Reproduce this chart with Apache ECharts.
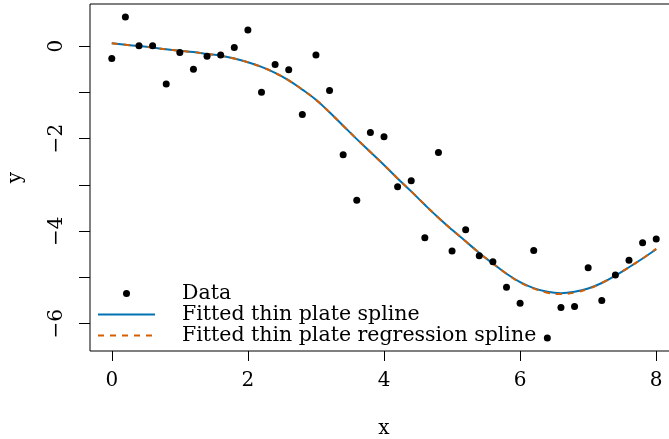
<!DOCTYPE html>
<html>
<head>
<meta charset="utf-8">
<script src="https://cdn.jsdelivr.net/npm/echarts@6.0.0/dist/echarts.min.js"></script>
<style>html,body{margin:0;padding:0;background:#fff}#c{width:669px;height:439px}</style>
</head>
<body>
<div id="c"></div>
<script>
var xValues = [0,0.2,0.4,0.6,0.8,1.0,1.2,1.4,1.6,1.8,2.0,2.2,2.4,2.6,2.8,3.0,3.2,3.4,3.6,3.8,4.0,4.2,4.4,4.6,4.8,5.0,5.2,5.4,5.6,5.8,6.0,6.2,6.4,6.6,6.8,7.0,7.2,7.4,7.6,7.8,8.0];
var yData = [-0.27,0.63,0.01,0.01,-0.82,-0.14,-0.50,-0.22,-0.19,-0.03,0.35,-1.00,-0.40,-0.51,-1.48,-0.19,-0.96,-2.35,-3.33,-1.87,-1.96,-3.04,-2.91,-4.14,-2.30,-4.43,-3.97,-4.53,-4.66,-5.21,-5.56,-4.42,-6.31,-5.65,-5.63,-4.79,-5.50,-4.95,-4.63,-4.25,-4.17];
var fitTps = [0.06,0.03,0.00,-0.03,-0.07,-0.10,-0.13,-0.17,-0.21,-0.27,-0.35,-0.45,-0.58,-0.74,-0.94,-1.16,-1.43,-1.72,-2.01,-2.29,-2.57,-2.86,-3.14,-3.43,-3.71,-3.97,-4.22,-4.47,-4.70,-4.92,-5.10,-5.23,-5.31,-5.34,-5.31,-5.24,-5.12,-4.96,-4.78,-4.59,-4.39];
var fitTprs = [0.06,0.03,0.00,-0.03,-0.07,-0.10,-0.13,-0.17,-0.21,-0.27,-0.35,-0.45,-0.58,-0.74,-0.94,-1.16,-1.43,-1.72,-2.01,-2.29,-2.57,-2.86,-3.14,-3.43,-3.71,-3.97,-4.22,-4.47,-4.70,-4.92,-5.11,-5.24,-5.33,-5.36,-5.33,-5.25,-5.12,-4.96,-4.78,-4.59,-4.38];
var xTicks = [0,2,4,6,8];
var yTicks = [-6,-5,-4,-3,-2,-1,0];
var yLabels = [-6,-4,-2,0];
var legendNames = ['Data','Fitted thin plate spline','Fitted thin plate regression spline'];

function pairs(xs, ys){ return xs.map(function(x,i){ return [x, ys[i]]; }); }
function fmt(v){ return (v < 0 ? '\u2212' : '') + Math.abs(v); }

var FONT = 'DejaVu Serif';
var chart = echarts.init(document.getElementById('c'), null, {renderer:'canvas'});
chart.setOption({
  animation: false,
  backgroundColor: '#fff',
  textStyle: {fontFamily: FONT, color: '#000'},
  grid: {left: 90, top: 4, width: 588, height: 347, show: true, borderColor: '#000', borderWidth: 1, backgroundColor: 'transparent', containLabel: false, outerBoundsMode: 'none'},
  xAxis: {
    type: 'value', min: -0.32, max: 8.32,
    name: 'x', nameLocation: 'middle', nameGap: 68,
    nameTextStyle: {fontFamily: FONT, fontSize: 20, color: '#000'},
    axisLine: {show: false, onZero: false},
    splitLine: {show: false},
    axisTick: {show: true, inside: false, length: 10, customValues: xTicks, lineStyle: {color: '#000', width: 1}},
    axisLabel: {show: true, margin: 20, customValues: xTicks, fontFamily: FONT, fontSize: 20, color: '#000', formatter: fmt}
  },
  yAxis: {
    type: 'value', min: -6.59, max: 0.91,
    name: 'y', nameLocation: 'middle', nameGap: 64, nameRotate: 90,
    nameTextStyle: {fontFamily: FONT, fontSize: 20, color: '#000'},
    axisLine: {show: false, onZero: false},
    splitLine: {show: false},
    axisTick: {show: true, inside: false, length: 11, customValues: yTicks, lineStyle: {color: '#000', width: 1}},
    axisLabel: {show: true, margin: 23, rotate: 90, customValues: yLabels, fontFamily: FONT, fontSize: 20, color: '#000', formatter: fmt}
  },
  legend: {
    orient: 'vertical', left: 97, top: 283, padding: 0, itemGap: 0,
    itemWidth: 57, itemHeight: 7,
    textStyle: {fontFamily: FONT, fontSize: 20.5, color: '#000', lineHeight: 19.5, padding: [0,0,0,22]},
    data: [
      {name: legendNames[0], icon: 'circle', itemStyle: {color: '#000', opacity: 1}},
      {name: legendNames[1], itemStyle: {opacity: 0}},
      {name: legendNames[2], itemStyle: {opacity: 0}}
    ]
  },
  series: [
    {name: legendNames[1], type: 'line', data: pairs(xValues, fitTps), symbol: 'none', showSymbol: false, smooth: 0.4,
     lineStyle: {color: '#0072B2', width: 2}, itemStyle: {color: '#0072B2'}, z: 2},
    {name: legendNames[2], type: 'line', data: pairs(xValues, fitTprs), symbol: 'none', showSymbol: false, smooth: 0.4,
     lineStyle: {color: '#D55E00', width: 2, type: [6,6]}, itemStyle: {color: '#D55E00'}, z: 3},
    {name: legendNames[0], type: 'scatter', data: pairs(xValues, yData), symbol: 'circle', symbolSize: 7,
     itemStyle: {color: '#000', opacity: 1}, z: 4}
  ]
});
</script>
</body>
</html>
